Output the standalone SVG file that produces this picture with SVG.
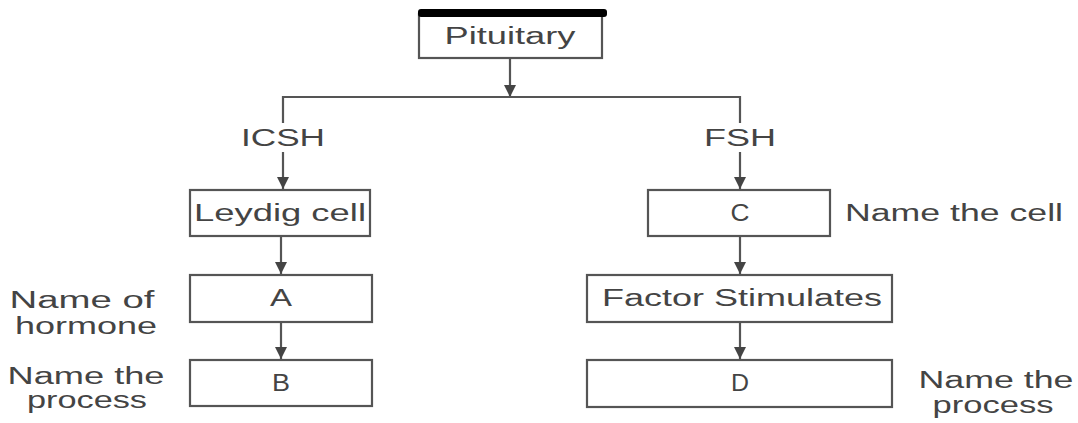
<svg xmlns="http://www.w3.org/2000/svg" width="1078" height="423" viewBox="0 0 1078 423">
<style>
.box{fill:#fff;stroke:#555;stroke-width:2.2}
.ln{fill:none;stroke:#555;stroke-width:2.2}
.t{font-family:"Liberation Sans",Arial,sans-serif;fill:#444;font-size:23px;text-anchor:middle}
</style>
<defs>
<marker id="ah" viewBox="0 0 10 10" refX="10" refY="5" markerWidth="5.5" markerHeight="5.5" orient="auto" markerUnits="strokeWidth">
<path d="M0,0 L10,5 L0,10 z" fill="#444"/>
</marker>
</defs>
<rect width="1078" height="423" fill="#fff"/>
<g id="connectors">
<line class="ln" x1="510" y1="58" x2="510" y2="97" marker-end="url(#ah)"/>
<polyline class="ln" points="283,123 283,97 740,97 740,123"/>
<line class="ln" x1="283" y1="152" x2="283" y2="189" marker-end="url(#ah)"/>
<line class="ln" x1="740" y1="152" x2="740" y2="189" marker-end="url(#ah)"/>
<line class="ln" x1="281" y1="236" x2="281" y2="274" marker-end="url(#ah)"/>
<line class="ln" x1="281" y1="322" x2="281" y2="359" marker-end="url(#ah)"/>
<line class="ln" x1="740" y1="236" x2="740" y2="274" marker-end="url(#ah)"/>
<line class="ln" x1="740" y1="322" x2="740" y2="359" marker-end="url(#ah)"/>
</g>
<g id="pituitary">
<rect class="box" x="419" y="14" width="183" height="44"/>
<rect x="418" y="9" width="189" height="8" rx="3" fill="#000"/>
<text class="t" x="510" y="44" textLength="131" lengthAdjust="spacingAndGlyphs">Pituitary</text>
</g>
<g id="icsh"><text class="t" x="283" y="146" textLength="84" lengthAdjust="spacingAndGlyphs">ICSH</text></g>
<g id="fsh"><text class="t" x="740" y="146" textLength="72" lengthAdjust="spacingAndGlyphs">FSH</text></g>
<g id="leydig">
<rect class="box" x="190" y="190" width="180" height="46"/>
<text class="t" x="280" y="221" textLength="172" lengthAdjust="spacingAndGlyphs">Leydig cell</text>
</g>
<g id="c">
<rect class="box" x="648" y="190" width="182" height="46"/>
<text class="t" x="740" y="221" textLength="19" lengthAdjust="spacingAndGlyphs">C</text>
</g>
<g id="label-cell"><text class="t" x="954" y="221" textLength="218" lengthAdjust="spacingAndGlyphs">Name the cell</text></g>
<g id="a">
<rect class="box" x="190" y="275" width="182" height="47"/>
<text class="t" x="281" y="306" textLength="22" lengthAdjust="spacingAndGlyphs">A</text>
</g>
<g id="label-hormone">
<text class="t" x="82" y="308" textLength="145" lengthAdjust="spacingAndGlyphs">Name of</text>
<text class="t" x="86" y="334" textLength="142" lengthAdjust="spacingAndGlyphs">hormone</text>
</g>
<g id="b">
<rect class="box" x="190" y="360" width="182" height="46"/>
<text class="t" x="281" y="391" textLength="18" lengthAdjust="spacingAndGlyphs">B</text>
</g>
<g id="label-process-left">
<text class="t" x="86" y="384" textLength="157" lengthAdjust="spacingAndGlyphs">Name the</text>
<text class="t" x="87" y="408" textLength="120" lengthAdjust="spacingAndGlyphs">process</text>
</g>
<g id="factor">
<rect class="box" x="587" y="275" width="305" height="47"/>
<text class="t" x="742" y="306" textLength="280" lengthAdjust="spacingAndGlyphs">Factor Stimulates</text>
</g>
<g id="d">
<rect class="box" x="587" y="360" width="305" height="47"/>
<text class="t" x="740" y="391" textLength="18" lengthAdjust="spacingAndGlyphs">D</text>
</g>
<g id="label-process-right">
<text class="t" x="996" y="388" textLength="155" lengthAdjust="spacingAndGlyphs">Name the</text>
<text class="t" x="993" y="413" textLength="121" lengthAdjust="spacingAndGlyphs">process</text>
</g>
</svg>
